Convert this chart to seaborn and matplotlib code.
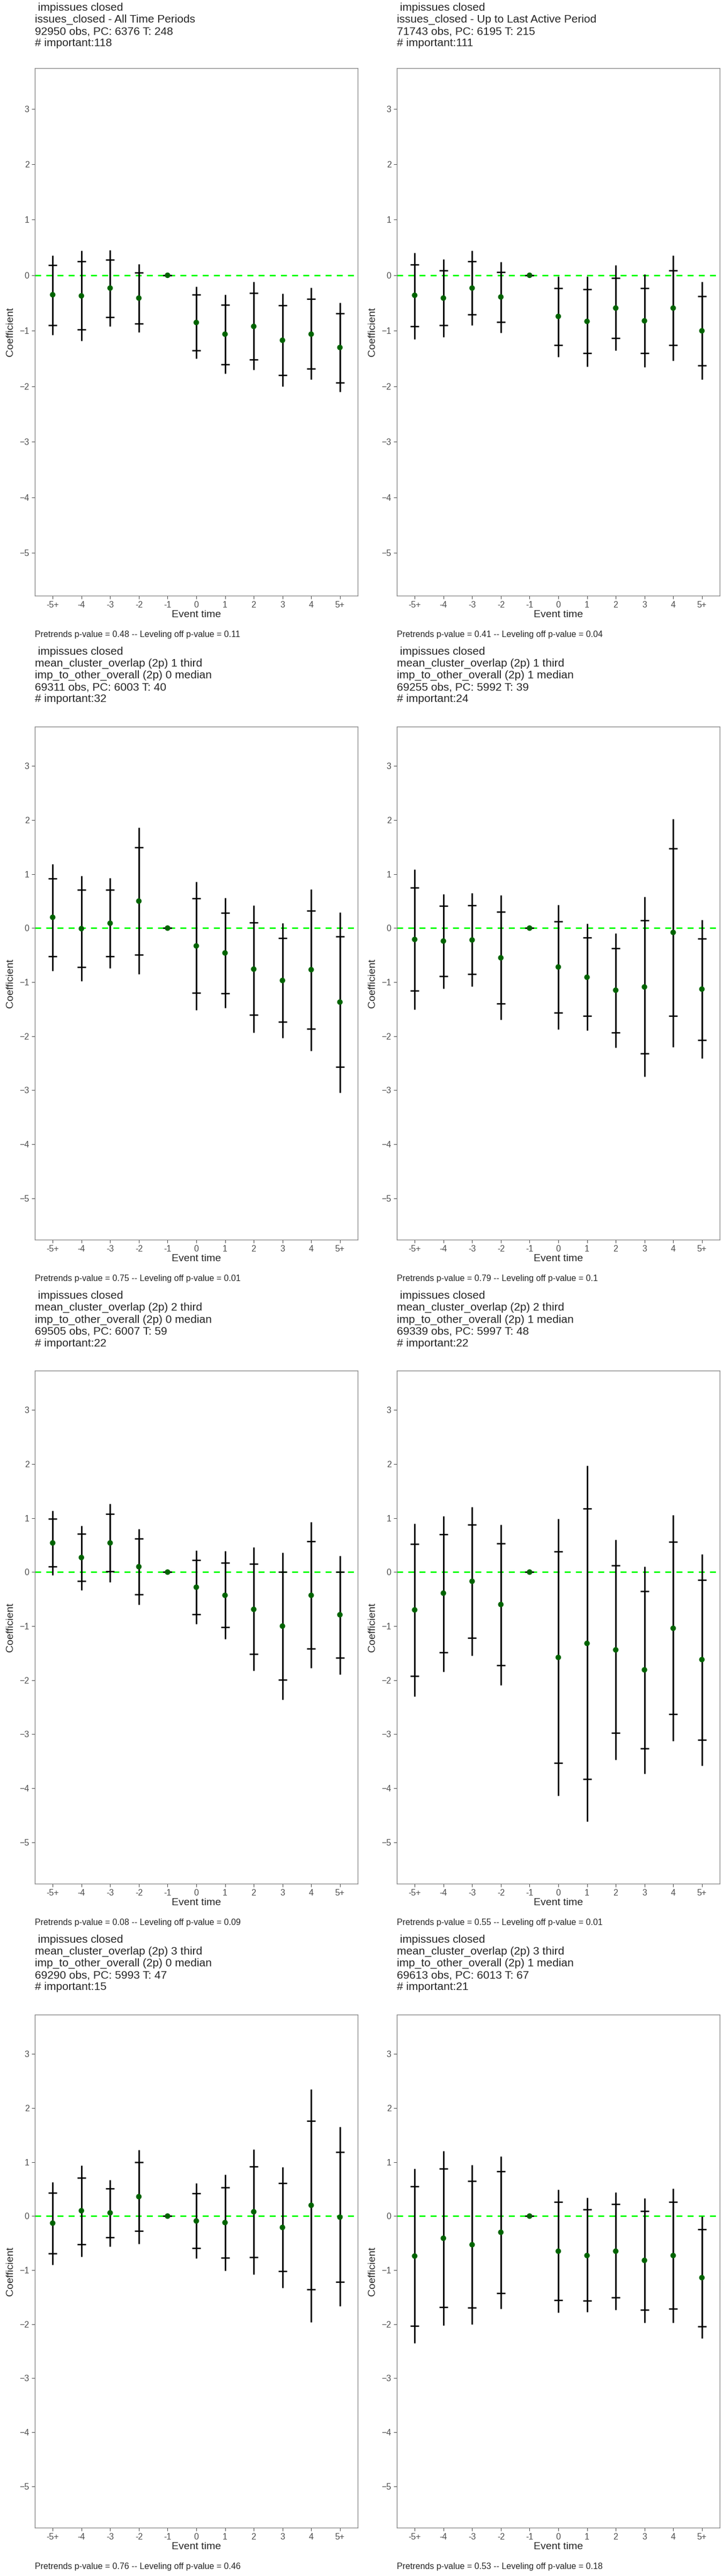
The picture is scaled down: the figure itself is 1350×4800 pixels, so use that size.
import numpy as np
import pandas as pd
import seaborn as sns
import matplotlib
matplotlib.use("Agg")
import matplotlib.pyplot as plt

sns.set_style("white")
plt.rcParams['font.family'] = ['Liberation Sans', 'DejaVu Sans']

event_labels = ["-5+", "-4", "-3", "-2", "-1", "0", "1", "2", "3", "4", "5+"]

titles = [
    " impissues closed\nissues_closed - All Time Periods\n92950 obs, PC: 6376 T: 248\n# important:118",
    " impissues closed\nissues_closed - Up to Last Active Period\n71743 obs, PC: 6195 T: 215\n# important:111",
    " impissues closed\nmean_cluster_overlap (2p) 1 third\nimp_to_other_overall (2p) 0 median\n69311 obs, PC: 6003 T: 40\n# important:32",
    " impissues closed\nmean_cluster_overlap (2p) 1 third\nimp_to_other_overall (2p) 1 median\n69255 obs, PC: 5992 T: 39\n# important:24",
    " impissues closed\nmean_cluster_overlap (2p) 2 third\nimp_to_other_overall (2p) 0 median\n69505 obs, PC: 6007 T: 59\n# important:22",
    " impissues closed\nmean_cluster_overlap (2p) 2 third\nimp_to_other_overall (2p) 1 median\n69339 obs, PC: 5997 T: 48\n# important:22",
    " impissues closed\nmean_cluster_overlap (2p) 3 third\nimp_to_other_overall (2p) 0 median\n69290 obs, PC: 5993 T: 47\n# important:15",
    " impissues closed\nmean_cluster_overlap (2p) 3 third\nimp_to_other_overall (2p) 1 median\n69613 obs, PC: 6013 T: 67\n# important:21",
]
pretrend_p = [0.48, 0.41, 0.75, 0.79, 0.08, 0.55, 0.76, 0.53]
leveling_p = [0.11, 0.04, 0.01, 0.1, 0.09, 0.01, 0.46, 0.18]

# point estimates
coef = [
    [-0.35, -0.37, -0.23, -0.41, 0, -0.85, -1.06, -0.92, -1.17, -1.06, -1.30],
    [-0.36, -0.41, -0.23, -0.39, 0, -0.74, -0.83, -0.59, -0.82, -0.59, -1.00],
    [0.20, -0.01, 0.09, 0.50, 0, -0.33, -0.46, -0.76, -0.97, -0.77, -1.37],
    [-0.21, -0.24, -0.22, -0.55, 0, -0.72, -0.91, -1.15, -1.09, -0.08, -1.13],
    [0.54, 0.27, 0.54, 0.10, 0, -0.28, -0.43, -0.69, -1.00, -0.43, -0.79],
    [-0.70, -0.39, -0.17, -0.60, 0, -1.58, -1.32, -1.44, -1.81, -1.04, -1.62],
    [-0.13, 0.10, 0.06, 0.36, 0, -0.09, -0.12, 0.08, -0.21, 0.20, -0.02],
    [-0.74, -0.41, -0.53, -0.30, 0, -0.65, -0.73, -0.65, -0.82, -0.73, -1.14],
]
# inner interval (ticks)
inner_lo = [
    [-0.90, -0.98, -0.75, -0.87, 0, -1.35, -1.60, -1.52, -1.80, -1.68, -1.93],
    [-0.92, -0.90, -0.71, -0.84, 0, -1.26, -1.40, -1.13, -1.40, -1.26, -1.62],
    [-0.52, -0.72, -0.52, -0.49, 0, -1.20, -1.21, -1.61, -1.74, -1.86, -2.57],
    [-1.16, -0.89, -0.85, -1.40, 0, -1.57, -1.63, -1.93, -2.32, -1.63, -2.07],
    [0.10, -0.17, 0.01, -0.41, 0, -0.78, -1.02, -1.52, -1.99, -1.42, -1.59],
    [-1.92, -1.49, -1.22, -1.73, 0, -3.53, -3.83, -2.98, -3.27, -2.63, -3.11],
    [-0.69, -0.52, -0.39, -0.27, 0, -0.59, -0.77, -0.76, -1.02, -1.36, -1.22],
    [-2.03, -1.69, -1.70, -1.43, 0, -1.56, -1.57, -1.51, -1.74, -1.72, -2.04],
]
inner_hi = [
    [0.18, 0.25, 0.28, 0.05, 0, -0.35, -0.53, -0.32, -0.54, -0.43, -0.69],
    [0.19, 0.09, 0.25, 0.06, 0, -0.23, -0.25, -0.05, -0.23, 0.09, -0.38],
    [0.92, 0.71, 0.71, 1.49, 0, 0.55, 0.28, 0.10, -0.19, 0.32, -0.16],
    [0.75, 0.41, 0.42, 0.30, 0, 0.12, -0.18, -0.37, 0.14, 1.47, -0.20],
    [0.99, 0.71, 1.08, 0.62, 0, 0.22, 0.17, 0.15, 0.00, 0.57, 0.00],
    [0.52, 0.70, 0.88, 0.53, 0, 0.38, 1.18, 0.12, -0.35, 0.56, -0.15],
    [0.43, 0.71, 0.51, 1.00, 0, 0.42, 0.53, 0.92, 0.61, 1.76, 1.19],
    [0.55, 0.88, 0.65, 0.83, 0, 0.26, 0.12, 0.22, 0.09, 0.26, -0.24],
]
# outer interval (line ends)
outer_lo = [
    [-1.07, -1.18, -0.92, -1.02, 0, -1.50, -1.77, -1.70, -2.00, -1.88, -2.10],
    [-1.15, -1.11, -0.90, -1.03, 0, -1.47, -1.64, -1.35, -1.65, -1.54, -1.88],
    [-0.79, -0.98, -0.74, -0.85, 0, -1.52, -1.48, -1.93, -2.03, -2.27, -3.05],
    [-1.51, -1.12, -1.08, -1.70, 0, -1.87, -1.89, -2.21, -2.75, -2.20, -2.41],
    [-0.06, -0.33, -0.19, -0.60, 0, -0.96, -1.24, -1.82, -2.36, -1.78, -1.89],
    [-2.30, -1.84, -1.55, -2.09, 0, -4.14, -4.62, -3.47, -3.73, -3.13, -3.58],
    [-0.90, -0.75, -0.56, -0.51, 0, -0.78, -1.01, -1.08, -1.33, -1.96, -1.67],
    [-2.35, -2.02, -2.00, -1.72, 0, -1.79, -1.78, -1.74, -1.97, -1.97, -2.26],
]
outer_hi = [
    [0.36, 0.44, 0.45, 0.20, 0, -0.20, -0.35, -0.12, -0.33, -0.22, -0.49],
    [0.41, 0.29, 0.44, 0.24, 0, -0.02, -0.02, 0.18, 0.02, 0.36, -0.12],
    [1.19, 0.97, 0.93, 1.86, 0, 0.86, 0.56, 0.42, 0.09, 0.72, 0.29],
    [1.09, 0.63, 0.65, 0.61, 0, 0.43, 0.08, -0.10, 0.58, 2.02, 0.15],
    [1.14, 0.86, 1.27, 0.80, 0, 0.40, 0.39, 0.46, 0.36, 0.93, 0.30],
    [0.90, 1.04, 1.21, 0.88, 0, 0.99, 1.97, 0.60, 0.10, 1.06, 0.33],
    [0.63, 0.94, 0.67, 1.23, 0, 0.61, 0.77, 1.24, 0.91, 2.35, 1.65],
    [0.88, 1.21, 0.95, 1.11, 0, 0.49, 0.34, 0.44, 0.33, 0.51, -0.01],
]

W, H = 1350, 4800
fig = plt.figure(figsize=(W / 100, H / 100), dpi=100)
x = np.arange(len(event_labels))

for i in range(8):
    r, c = divmod(i, 2)
    px, py = c * 675, r * 1200
    nlines = titles[i].count("\n") + 1
    top = 127 if nlines == 4 else 154
    bottom = 1110
    ax = fig.add_axes([(px + 65) / W, 1 - (py + bottom) / H, 602 / W, (bottom - top) / H])

    df = pd.DataFrame({"x": x, "coef": coef[i], "ilo": inner_lo[i], "ihi": inner_hi[i],
                       "olo": outer_lo[i], "ohi": outer_hi[i]})
    ax.axhline(0, color="#00ff00", lw=2, ls=(0, (4, 3.5)), zorder=1)
    ax.vlines(df["x"], df["olo"], df["ohi"], color="black", lw=2, zorder=2)
    ax.errorbar(df["x"], df["coef"], yerr=[df["coef"] - df["ilo"], df["ihi"] - df["coef"]],
                fmt="none", ecolor="black", elinewidth=2, capsize=6, capthick=1.8, zorder=2)
    sns.scatterplot(data=df, x="x", y="coef", ax=ax, color="#006400", s=55,
                    edgecolor="none", zorder=3)

    ax.set_xlim(-0.62, 10.62)
    ax.set_ylim(-5.77, 3.73)
    ax.set_xticks(x)
    ax.set_xticklabels(event_labels)
    ax.set_yticks(range(-5, 4))
    ax.tick_params(axis="both", colors="#4d4d4d", labelsize=11.5, length=4, width=0.8,
                   direction="out", left=True, bottom=True)
    for s in ax.spines.values():
        s.set_color("#7f7f7f")
        s.set_linewidth(0.9)
    ax.set_xlabel("Event time", fontsize=14, labelpad=1)
    ax.set_ylabel("Coefficient", fontsize=14, labelpad=6)

    fig.text((px + 65) / W, 1 - (py + 5) / H, titles[i], fontsize=15, va="top", ha="left",
             linespacing=1.2)
    fig.text((px + 65) / W, 1 - (py + 1183) / H,
             f"Pretrends p-value = {pretrend_p[i]} -- Leveling off p-value = {leveling_p[i]}",
             fontsize=11.5, va="center", ha="left")

fig.savefig("out.png", dpi=100, facecolor="white")
